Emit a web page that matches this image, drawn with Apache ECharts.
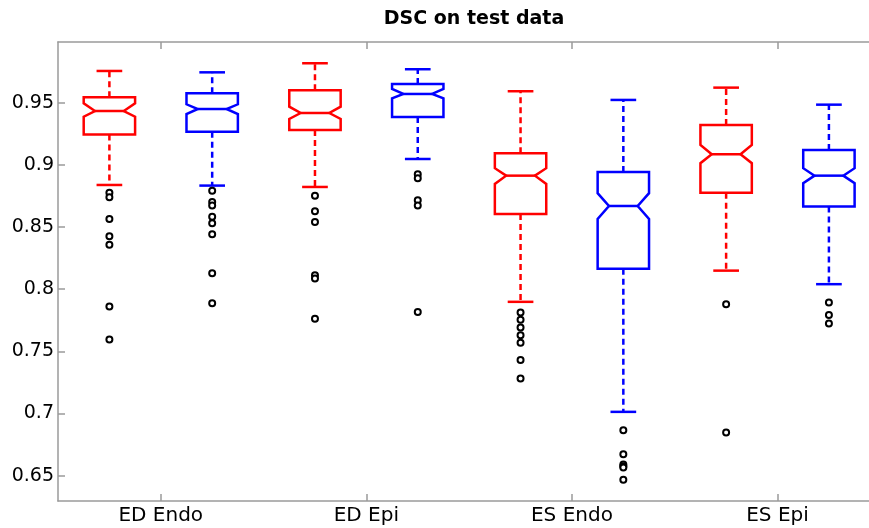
<!DOCTYPE html>
<html>
<head>
<meta charset="utf-8">
<title>DSC on test data</title>
<script src="https://cdn.jsdelivr.net/npm/echarts@6/dist/echarts.min.js"></script>
<style>
    html, body { margin: 0; padding: 0; background: #fff; }
    #main { width: 869px; height: 528px; }
</style>
</head>
<body>
<div id="main"></div>
<script>
    // group labels on the x axis (between each red/blue pair)
    var categories = ["ED Endo", "ED Epi", "ES Endo", "ES Epi"];
    var catTicks = [1.5, 3.5, 5.5, 7.5];
    var yTicks = [0.65, 0.7, 0.75, 0.8, 0.85, 0.9, 0.95];

    // box positions 1..8, red = odd, blue = even
    var positions = [1, 2, 3, 4, 5, 6, 7, 8];
    var boxColors = ["#ff0000", "#0000ff"];

    var whiskerHigh = [0.9755, 0.9744, 0.9817, 0.9769, 0.9592, 0.9522, 0.9621, 0.9484];
    var q3          = [0.9543, 0.9576, 0.9600, 0.9650, 0.9093, 0.8943, 0.9321, 0.9120];
    var notchHigh   = [0.9495, 0.9487, 0.9468, 0.9610, 0.8973, 0.8772, 0.9160, 0.8973];
    var median      = [0.9433, 0.9449, 0.9417, 0.9570, 0.8913, 0.8669, 0.9085, 0.8913];
    var notchLow    = [0.9387, 0.9409, 0.9369, 0.9535, 0.8846, 0.8565, 0.9013, 0.8852];
    var q1          = [0.9243, 0.9267, 0.9281, 0.9385, 0.8605, 0.8165, 0.8776, 0.8664];
    var whiskerLow  = [0.8838, 0.8833, 0.8822, 0.9047, 0.7898, 0.7013, 0.8149, 0.8040];

    var outliers = [
        [0.8776, 0.8739, 0.8565, 0.8426, 0.8358, 0.7860, 0.7595],
        [0.8792, 0.8702, 0.8672, 0.8583, 0.8530, 0.8442, 0.8128, 0.7887],
        [0.8752, 0.8627, 0.8541, 0.8112, 0.8085, 0.7761],
        [0.8924, 0.8892, 0.8715, 0.8672, 0.7817],
        [0.7812, 0.7753, 0.7691, 0.7630, 0.7568, 0.7431, 0.7281],
        [0.6866, 0.6673, 0.6590, 0.6575, 0.6565, 0.6467],
        [0.7879, 0.6847],
        [0.7892, 0.7793, 0.7723]
    ];

    var boxData = positions.map(function (p, i) {
        return [p, whiskerLow[i], q1[i], notchLow[i], median[i], notchHigh[i], q3[i], whiskerHigh[i]];
    });

    var outlierData = [];
    outliers.forEach(function (list, i) {
        list.forEach(function (v) {
            outlierData.push([positions[i], v]);
        });
    });

    var halfW = 0.25;      // box half width
    var notchW = 0.14;     // half width at the median
    var capW = 0.125;      // whisker cap half width

    function renderBox(params, api) {
        var x = api.value(0);
        var color = boxColors[params.dataIndex % 2];
        function pt(dx, v) { return api.coord([x + dx, v]); }

        var lo = api.value(1), b1 = api.value(2), nlo = api.value(3), med = api.value(4),
            nhi = api.value(5), b3 = api.value(6), hi = api.value(7);

        var solid = { stroke: color, lineWidth: 2.5, fill: null };
        var dashed = { stroke: color, lineWidth: 2.5, lineDash: [6, 4] };

        return {
            type: "group",
            children: [
                // notched box
                {
                    type: "polygon",
                    shape: { points: [
                        pt(-halfW, b3), pt(halfW, b3), pt(halfW, nhi), pt(notchW, med),
                        pt(halfW, nlo), pt(halfW, b1), pt(-halfW, b1), pt(-halfW, nlo),
                        pt(-notchW, med), pt(-halfW, nhi)
                    ] },
                    style: solid
                },
                // median
                { type: "line", shape: { x1: pt(-notchW, med)[0], y1: pt(0, med)[1], x2: pt(notchW, med)[0], y2: pt(0, med)[1] }, style: solid },
                // whiskers
                { type: "line", shape: { x1: pt(0, b3)[0], y1: pt(0, b3)[1], x2: pt(0, hi)[0], y2: pt(0, hi)[1] }, style: dashed },
                { type: "line", shape: { x1: pt(0, b1)[0], y1: pt(0, b1)[1], x2: pt(0, lo)[0], y2: pt(0, lo)[1] }, style: dashed },
                // caps
                { type: "line", shape: { x1: pt(-capW, hi)[0], y1: pt(0, hi)[1], x2: pt(capW, hi)[0], y2: pt(0, hi)[1] }, style: solid },
                { type: "line", shape: { x1: pt(-capW, lo)[0], y1: pt(0, lo)[1], x2: pt(capW, lo)[0], y2: pt(0, lo)[1] }, style: solid }
            ]
        };
    }

    var axisGray = { color: "#9a9a9a", width: 1.5 };

    var chart = echarts.init(document.getElementById("main"), null, { renderer: "canvas" });

    var option = {
        animation: false,
        backgroundColor: "#fff",
        title: {
            text: "DSC on test data",
            left: 469,
            textAlign: "center",
            top: 5,
            textStyle: { fontFamily: "DejaVu Sans", fontWeight: "bold", fontSize: 19, color: "#000" }
        },
        // the picture is cut before the right frame (x = 8.5), so the
        // visible axis ends a little short of it
        grid: { left: 58, top: 42, right: 0, bottom: 27 },
        xAxis: [{
            type: "value",
            min: 0.5,
            max: 8.39,
            position: "bottom",
            splitLine: { show: false },
            axisLine: { show: true, lineStyle: axisGray },
            axisTick: { show: true, inside: true, length: 7, customValues: catTicks, lineStyle: axisGray },
            axisLabel: {
                customValues: catTicks,
                margin: 5,
                color: "#000",
                fontFamily: "DejaVu Sans",
                fontSize: 20,
                formatter: function (v) { return categories[Math.round((v - 1.5) / 2)]; }
            }
        }, {
            // top frame
            type: "value",
            min: 0.5,
            max: 8.39,
            position: "top",
            splitLine: { show: false },
            axisLine: { show: true, lineStyle: axisGray },
            axisTick: { show: true, inside: true, length: 7, customValues: catTicks, lineStyle: axisGray },
            axisLabel: { show: false }
        }],
        yAxis: [{
            type: "value",
            min: 0.6296,
            max: 0.9988,
            position: "left",
            splitLine: { show: false },
            axisLine: { show: true, lineStyle: axisGray },
            axisTick: { show: true, inside: true, length: 7, customValues: yTicks, lineStyle: axisGray },
            axisLabel: {
                customValues: yTicks,
                margin: 4,
                color: "#000",
                fontFamily: "DejaVu Sans",
                fontSize: 19,
                formatter: function (v) { return String(v); }
            }
        }],
        series: [{
            type: "custom",
            name: "boxes",
            renderItem: renderBox,
            encode: { x: 0, y: [1, 2, 3, 4, 5, 6, 7] },
            data: boxData,
            z: 3
        }, {
            type: "scatter",
            name: "outliers",
            symbol: "emptyCircle",
            symbolSize: 6,
            itemStyle: { color: "#000", borderColor: "#000", borderWidth: 1.8, opacity: 1 },
            data: outlierData,
            z: 4
        }]
    };

    chart.setOption(option);
</script>
</body>
</html>
